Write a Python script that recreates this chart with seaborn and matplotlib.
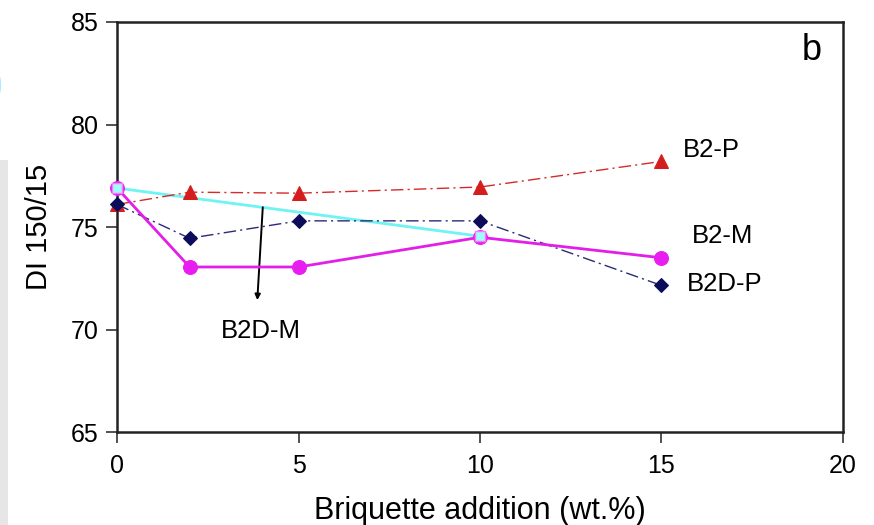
import matplotlib
matplotlib.use("Agg")
import matplotlib.pyplot as plt
from matplotlib.patches import Rectangle, Ellipse
import seaborn as sns

# Briquette addition levels (wt.%) and DI 150/15 drum index per blend
addition = [0, 2, 5, 10, 15]
b2_p = [76.1, 76.7, 76.65, 76.95, 78.2]
b2d_p = [76.1, 74.45, 75.3, 75.3, 72.15]
b2_m = [76.9, 73.05, 73.05, 74.5, 73.5]
b2d_m_x = [0, 10]
b2d_m = [76.9, 74.55]

sns.set_theme(style="white")
plt.rcParams["font.family"] = ["Liberation Sans", "DejaVu Sans"]
plt.rcParams["text.color"] = "black"
plt.rcParams["xtick.color"] = "black"
plt.rcParams["ytick.color"] = "black"
plt.rcParams["axes.labelcolor"] = "black"

fig = plt.figure(figsize=(8.74, 5.25), dpi=100)
# page margin strip along the left edge
fig.patches.append(Rectangle((0, 0), 0.009, 0.695, transform=fig.transFigure,
                             facecolor="#e6e6e6", edgecolor="none", zorder=0))
fig.patches.append(Ellipse((0.0, 0.838), 0.0025, 0.03, transform=fig.transFigure,
                           facecolor="#a8ecff", edgecolor="none", zorder=0))
ax = fig.add_axes([0.1339, 0.1771, 0.8306, 0.7810])

dashdot = (9, 3, 1.5, 3)

sns.lineplot(x=b2d_m_x, y=b2d_m, ax=ax, color="#6ff3f3", linewidth=2,
             zorder=2)
sns.lineplot(x=addition, y=b2_p, ax=ax, color="#d42a2a", linewidth=1,
             dashes=dashdot, marker="^", markersize=10.5,
             markerfacecolor="#d41e1e", markeredgecolor="#d41e1e",
             zorder=3, clip_on=False)
sns.lineplot(x=addition, y=b2d_p, ax=ax, color="#2a2a78", linewidth=1,
             dashes=dashdot, marker="D", markersize=7,
             markerfacecolor="#0c0c5a", markeredgecolor="#0c0c5a",
             zorder=3, clip_on=False)
sns.lineplot(x=addition, y=b2_m, ax=ax, color="#e21ee8", linewidth=2,
             marker="o", markersize=10, markerfacecolor="#e81ef0",
             markeredgecolor="#e81ef0", zorder=4, clip_on=False)
sns.lineplot(x=b2d_m_x, y=b2d_m, ax=ax, linestyle="none",
             marker="s", markersize=7, markerfacecolor="#9ffcff",
             markeredgecolor="#ff77ff", markeredgewidth=1, zorder=5,
             clip_on=False)

ax.set_xlim(0, 20)
ax.set_ylim(65, 85)
ax.set_xticks([0, 5, 10, 15, 20])
ax.set_yticks([65, 70, 75, 80, 85])
ax.tick_params(axis="both", direction="out", length=8, width=1.2,
               color="#333333", labelsize=18, left=True, bottom=True)
ax.tick_params(axis="x", pad=8)
ax.tick_params(axis="y", pad=5)
for s in ax.spines.values():
    s.set_color("#222222")
    s.set_linewidth(1.8)

ax.set_xlabel("Briquette addition (wt.%)", fontsize=22, labelpad=13)
ax.set_ylabel("DI 150/15", fontsize=21, labelpad=13)

ax.text(15.6, 78.75, "B2-P", fontsize=18.5, va="center", ha="left")
ax.text(15.85, 74.55, "B2-M", fontsize=18.5, va="center", ha="left")
ax.text(15.7, 72.2, "B2D-P", fontsize=18.5, va="center", ha="left")
ax.text(3.95, 69.95, "B2D-M", fontsize=18.5, va="center", ha="center")
ax.text(19.15, 83.6, "b", fontsize=26, va="center", ha="center")

ax.annotate("", xy=(3.86, 71.3), xytext=(4.02, 76.1),
            arrowprops=dict(arrowstyle="-|>", color="black", lw=1.4,
                            mutation_scale=8))

fig.savefig("out.png", dpi=100)
